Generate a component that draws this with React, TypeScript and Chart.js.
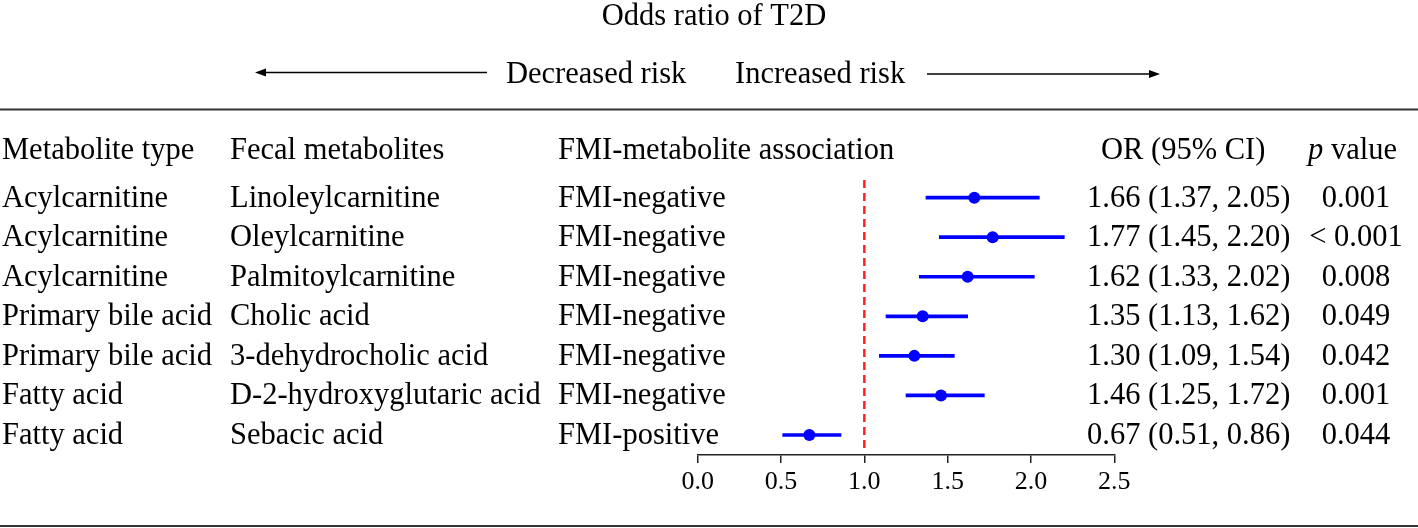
import React, { useEffect, useRef } from 'react';
import { Chart, registerables } from 'chart.js';

Chart.register(...registerables);

const metaboliteTypes = [
  'Acylcarnitine',
  'Acylcarnitine',
  'Acylcarnitine',
  'Primary bile acid',
  'Primary bile acid',
  'Fatty acid',
  'Fatty acid',
];
const fecalMetabolites = [
  'Linoleylcarnitine',
  'Oleylcarnitine',
  'Palmitoylcarnitine',
  'Cholic acid',
  '3-dehydrocholic acid',
  'D-2-hydroxyglutaric acid',
  'Sebacic acid',
];
const associations = [
  'FMI-negative',
  'FMI-negative',
  'FMI-negative',
  'FMI-negative',
  'FMI-negative',
  'FMI-negative',
  'FMI-positive',
];
const orValues = [1.66, 1.77, 1.62, 1.35, 1.3, 1.46, 0.67];
const ciLower = [1.37, 1.45, 1.33, 1.13, 1.09, 1.25, 0.51];
const ciUpper = [2.05, 2.2, 2.02, 1.62, 1.54, 1.72, 0.86];
const pValues = ['0.001', '< 0.001', '0.008', '0.049', '0.042', '0.001', '0.044'];
const xTicks = [0, 0.5, 1, 1.5, 2, 2.5];
const refValue = 1;

const headers = ['Metabolite type', 'Fecal metabolites', 'FMI-metabolite association', 'OR (95% CI)'];
const chartTitle = 'Odds ratio of T2D';
const leftLabel = 'Decreased risk';
const rightLabel = 'Increased risk';

const FONT = "'Liberation Serif', 'Times New Roman', Times, serif";
const FS = 30.5;
const Y_MIN = 0.554;
const Y_MAX = 7.506;

const tablePlugin = {
  id: 'forestTable',
  afterDraw(chart: any) {
    const ctx = chart.ctx as CanvasRenderingContext2D;
    const ys = chart.scales.y;
    const W = chart.width;
    ctx.save();

    // rules
    ctx.strokeStyle = '#333';
    ctx.lineWidth = 2;
    ctx.beginPath();
    ctx.moveTo(0, 109.5);
    ctx.lineTo(W, 109.5);
    ctx.moveTo(0, 526);
    ctx.lineTo(W, 526);
    ctx.stroke();

    // arrows
    ctx.strokeStyle = '#000';
    ctx.fillStyle = '#000';
    ctx.lineWidth = 1.5;
    ctx.beginPath();
    ctx.moveTo(487, 72.5);
    ctx.lineTo(262, 72.5);
    ctx.stroke();
    ctx.beginPath();
    ctx.moveTo(255, 72.5);
    ctx.lineTo(266, 68.5);
    ctx.lineTo(266, 76.5);
    ctx.closePath();
    ctx.fill();
    ctx.beginPath();
    ctx.moveTo(927, 74);
    ctx.lineTo(1153, 74);
    ctx.stroke();
    ctx.beginPath();
    ctx.moveTo(1160, 74);
    ctx.lineTo(1149, 70);
    ctx.lineTo(1149, 78);
    ctx.closePath();
    ctx.fill();

    ctx.font = `${FS}px ${FONT}`;
    ctx.textBaseline = 'alphabetic';
    ctx.textAlign = 'center';
    ctx.fillText(chartTitle, 714, 25);
    ctx.textAlign = 'left';
    ctx.fillText(leftLabel, 506, 83);
    ctx.fillText(rightLabel, 735, 83);

    // headers
    const hb = 158.5;
    ctx.fillText(headers[0], 2, hb);
    ctx.fillText(headers[1], 230, hb);
    ctx.fillText(headers[2], 558, hb);
    ctx.fillText(headers[3], 1101, hb);
    ctx.font = `italic ${FS}px ${FONT}`;
    ctx.fillText('p', 1308, hb);
    const pw = ctx.measureText('p').width;
    ctx.font = `${FS}px ${FONT}`;
    ctx.fillText(' value', 1308 + pw, hb);

    for (let i = 0; i < orValues.length; i++) {
      const yb = ys.getPixelForValue(i + 1) + 9;
      ctx.textAlign = 'left';
      ctx.fillText(metaboliteTypes[i], 2, yb);
      ctx.fillText(fecalMetabolites[i], 230, yb);
      ctx.fillText(associations[i], 558, yb);
      ctx.fillText(
        `${orValues[i].toFixed(2)} (${ciLower[i].toFixed(2)}, ${ciUpper[i].toFixed(2)})`,
        1087,
        yb
      );
      ctx.textAlign = 'center';
      ctx.fillText(pValues[i], 1356, yb);
    }
    ctx.restore();
  },
};

export default function App() {
  const ref = useRef<HTMLCanvasElement>(null);
  useEffect(() => {
    document.body.style.margin = '0';
    const canvas = ref.current;
    if (!canvas) return;
    const chart = new Chart(canvas, {
      type: 'bar',
      data: {
        datasets: [
          {
            type: 'line',
            data: [
              { x: refValue, y: Y_MIN },
              { x: refValue, y: 7.38 },
            ],
            borderColor: '#ff2222',
            borderWidth: 2.5,
            borderDash: [8, 5],
            pointRadius: 0,
            fill: false,
            order: 3,
          } as any,
          {
            type: 'bar',
            data: orValues.map((_, i) => ({ y: i + 1, x: [ciLower[i], ciUpper[i]] })),
            backgroundColor: '#0000ff',
            borderWidth: 0,
            barThickness: 3,
            order: 2,
          } as any,
          {
            type: 'scatter',
            data: orValues.map((v, i) => ({ x: v, y: i + 1 })),
            backgroundColor: '#0000ff',
            borderWidth: 0,
            pointRadius: 6,
            order: 1,
          } as any,
        ],
      },
      options: {
        animation: false,
        responsive: false,
        devicePixelRatio: 1,
        indexAxis: 'y',
        layout: {
          padding: { left: 697.7, right: 303.7, top: 180, bottom: 26.8 },
        },
        plugins: {
          legend: { display: false },
          tooltip: { enabled: false },
          title: { display: false },
        },
        scales: {
          x: {
            type: 'linear',
            position: 'bottom',
            min: 0,
            max: 2.5,
            offset: false,
            afterBuildTicks: (scale: any) => {
              scale.ticks = xTicks.map((v) => ({ value: v }));
            },
            ticks: {
              color: '#000',
              padding: 3.5,
              maxRotation: 0,
              font: { family: FONT, size: 26 },
              callback: (v: any) => Number(v).toFixed(1),
            },
            grid: {
              display: true,
              offset: false,
              drawOnChartArea: false,
              drawTicks: true,
              tickLength: 8,
              color: '#222',
              lineWidth: 1.5,
            },
            border: { display: true, color: '#222', width: 1.5 },
          },
          y: {
            type: 'linear',
            display: false,
            reverse: true,
            offset: false,
            grid: { offset: false },
            min: Y_MIN,
            max: Y_MAX,
          },
        },
      } as any,
      plugins: [tablePlugin],
    });
    return () => chart.destroy();
  }, []);
  return (
    <div style={{ position: 'absolute', left: 0, top: 0, width: 1418, height: 528 }}>
      <canvas ref={ref} width={1418} height={528} style={{ display: 'block', width: 1418, height: 528 }} />
    </div>
  );
}
